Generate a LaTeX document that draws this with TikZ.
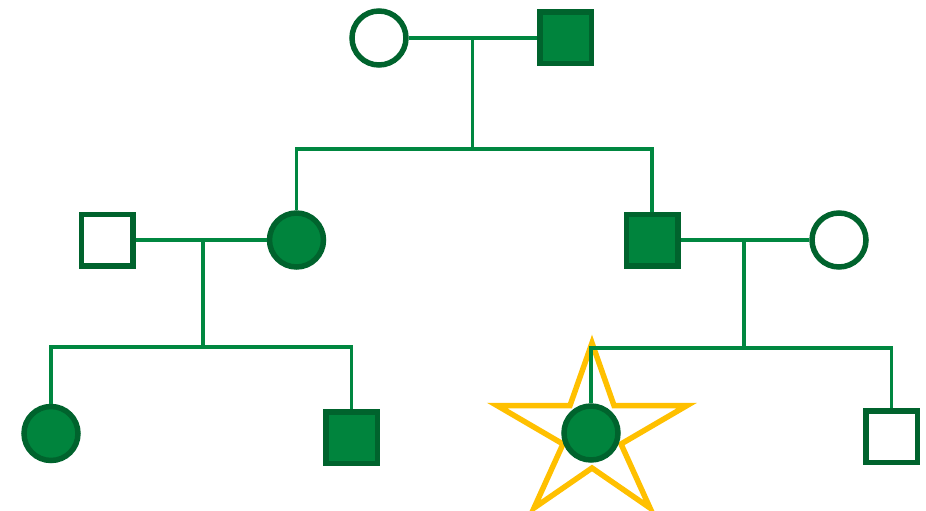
\documentclass[tikz,border=0pt]{standalone}
\definecolor{gfill}{HTML}{00843D}
\definecolor{gborder}{HTML}{00632D}
\definecolor{gline}{HTML}{008740}
\definecolor{starc}{HTML}{FFC000}
\begin{document}
\begin{tikzpicture}[x=1pt,y=-1pt,
  person/.style={draw=gborder,line width=5.5pt,inner sep=0pt},
  fem/.style={person,circle,minimum size=54pt},
  mal/.style={person,rectangle,minimum size=51.5pt},
  aff/.style={fill=gfill},
  unaff/.style={fill=white},
  conn/.style={draw=gline,line width=3.5pt}]
\useasboundingbox (0,0) rectangle (926,511);
% star
\draw[starc,line width=5.5pt,line join=miter]
  (592,343) -- (614,405.5) -- (687,405.5) -- (621,444) -- (650,508)
  -- (592,468) -- (534,508) -- (563,444) -- (497,405.5) -- (570,405.5) -- cycle;
% generation 1
\node[fem,unaff] (A) at (379,38) {};
\node[mal,aff] (B) at (565.5,38) {};
% generation 2
\node[mal,unaff] (C) at (107,240) {};
\node[fem,aff] (D) at (296.5,240) {};
\node[mal,aff] (E) at (652,240) {};
\node[fem,unaff] (F) at (839,240) {};
% generation 3
\node[fem,aff] (G) at (51,433.5) {};
\node[mal,aff] (H) at (351.5,437.5) {};
\node[fem,aff] (I) at (591,433) {};
\node[mal,unaff] (J) at (891.5,436.5) {};
% coordinates
\coordinate (m1) at (472.5,38);
\coordinate (s1) at (472.5,149);
\coordinate (m2) at (203,240);
\coordinate (s2) at (203,347);
\coordinate (m3) at (744,240);
\coordinate (s3) at (744,348);
% connectors
\draw[conn] (A) -- (B);
\draw[conn] (m1) -- (s1);
\draw[conn] (D.north) |- (s1) -| (E.north);
\draw[conn] (C) -- (D);
\draw[conn] (m2) -- (s2);
\draw[conn] (G.north) |- (s2) -| (H.north);
\draw[conn] (E) -- (F);
\draw[conn] (m3) -- (s3);
\draw[conn] (I.north) |- (s3) -| (J.north);
\end{tikzpicture}
\end{document}
